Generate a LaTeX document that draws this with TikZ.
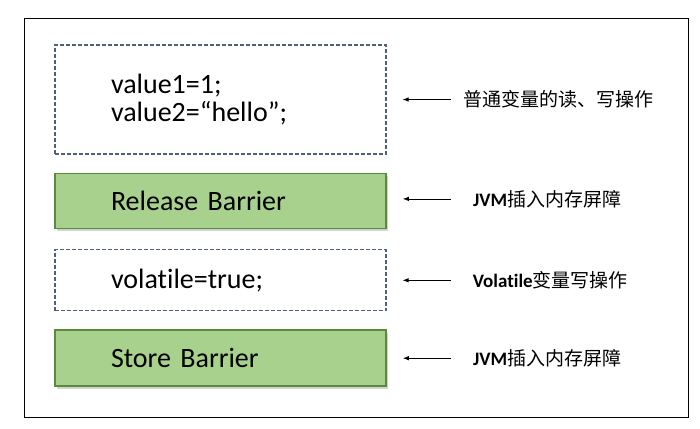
\documentclass[tikz,border=0pt]{standalone}
\usepackage{fontspec}
\setmainfont{Carlito}[Ligatures=NoCommon, WordSpace=0.7]
\newfontfamily\cjk{Noto Sans CJK SC}
\usepackage{tikz}
\usetikzlibrary{arrows.meta,positioning,shadows}
\definecolor{barrierfill}{HTML}{A9D18E}
\definecolor{barrierline}{HTML}{5B8A3A}
\definecolor{dashline}{HTML}{4F6079}

\begin{document}
\begin{tikzpicture}[x=1pt,y=-1pt,
  codebox/.style={draw=dashline, dash pattern=on 4pt off 2pt, line width=1.2pt,
                  minimum width=331pt, inner xsep=56pt, text width=219pt,
                  align=left, font=\fontsize{28}{28}\selectfont},
  barrier/.style={codebox, solid, draw=barrierline, line width=1.6pt, fill=barrierfill,
                  drop shadow={opacity=0.35, shadow xshift=2pt, shadow yshift=-3pt}},
  note/.style={anchor=west, inner sep=0pt, font=\fontsize{19}{22}\selectfont},
  pointer/.style={-{Latex[length=6pt,width=4.5pt]}, line width=0.8pt, shorten >=16pt}]

  \useasboundingbox (0,0) rectangle (700,428);
  \draw[line width=0.9pt] (24,18) rectangle (688,417);

  \node[codebox, minimum height=109pt] (V12) at (220.5,99.5) {value1=1;\\value2=“hello”;};
  \node[barrier, minimum height=55pt, below=18pt of V12] (REL) {Release Barrier};
  \node[codebox, minimum height=61pt, below=20pt of REL] (VOL) {volatile=true;};
  \node[barrier, minimum height=56pt, below=18pt of VOL] (STO) {Store Barrier};

  \coordinate (A1) at ([xshift=64pt]V12.east);
  \coordinate (A2) at ([xshift=64pt,yshift=2pt]REL.east);
  \coordinate (A3) at ([xshift=64pt]VOL.east);
  \coordinate (A4) at ([xshift=64pt]STO.east);

  \node[note, right=13pt of A1] (N1) {\cjk 普通变量的读、写操作};
  \node[note, right=22pt of A2] (N2) {\bfseries JVM{\cjk\mdseries 插入内存屏障}};
  \node[note, right=22pt of A3] (N3) {\bfseries Volatile{\cjk\mdseries 变量写操作}};
  \node[note, right=22pt of A4] (N4) {\bfseries JVM{\cjk\mdseries 插入内存屏障}};

  \draw[pointer] (A1) -- (V12.east |- A1);
  \draw[pointer] (A2) -- (REL.east |- A2);
  \draw[pointer] (A3) -- (VOL.east |- A3);
  \draw[pointer] (A4) -- (STO.east |- A4);
\end{tikzpicture}
\end{document}
